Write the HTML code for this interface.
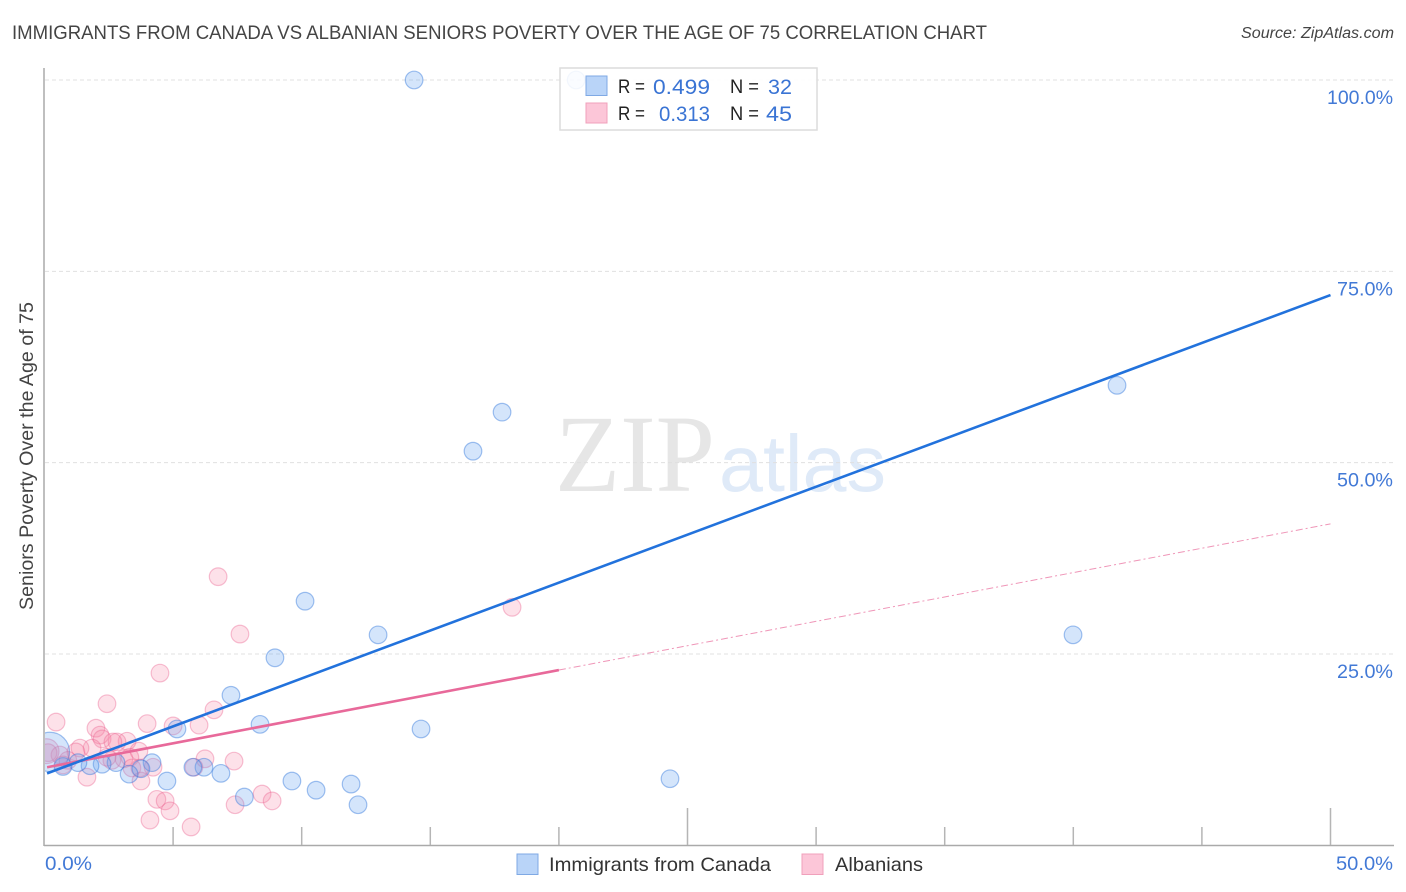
<!DOCTYPE html>
<html lang="en">
<head>
<meta charset="utf-8">
<title>Immigrants from Canada vs Albanian Seniors Poverty Correlation Chart</title>
<style>
  html, body { margin: 0; padding: 0; background: #fff; }
  svg { display: block; font-family: "Liberation Sans", sans-serif; filter: blur(0.3px); }
</style>
</head>
<body>
<svg id="chart" width="1406" height="892" viewBox="0 0 1406 892" xmlns="http://www.w3.org/2000/svg">
  <defs>
    <clipPath id="plot-clip"><rect x="45" y="60" width="1350" height="786"/></clipPath>
  </defs>
  <text x="12" y="39" font-size="19.5" fill="#444" textLength="975" lengthAdjust="spacingAndGlyphs">IMMIGRANTS FROM CANADA VS ALBANIAN SENIORS POVERTY OVER THE AGE OF 75 CORRELATION CHART</text>
  <text x="1241" y="38" font-size="15.5" font-style="italic" fill="#444" textLength="153" lengthAdjust="spacingAndGlyphs">Source: ZipAtlas.com</text>

  <g>
    <text x="555" y="491" font-family="'Liberation Serif', serif" font-size="110" fill="#e6e6e6" textLength="160" lengthAdjust="spacingAndGlyphs">ZIP</text>
    <text x="719" y="491" font-size="80" fill="#dfeaf8" textLength="167" lengthAdjust="spacingAndGlyphs">atlas</text>
  </g>

  <g id="grid"></g>
  <g id="axes"></g>
  <g clip-path="url(#plot-clip)">
    <g id="pink-points"></g>
    <g id="blue-points"></g>
  </g>
  <g id="trends"></g>

  <text transform="translate(33,456) rotate(-90)" text-anchor="middle" font-size="19" fill="#444" textLength="308" lengthAdjust="spacingAndGlyphs">Seniors Poverty Over the Age of 75</text>

  <g>
    <rect x="560" y="68" width="257" height="62" fill="#fff" fill-opacity="0.88" stroke="#dcdcdc" stroke-width="1.5"/>
    <rect x="586" y="76" width="21" height="19.5" fill="#b9d4f8" stroke="#7fa9e4" stroke-width="1"/>
    <rect x="586" y="103" width="21" height="20" fill="#fcc6d8" stroke="#f0a0bb" stroke-width="1"/>
    <text x="618" y="93" font-size="19" fill="#222" textLength="27" lengthAdjust="spacingAndGlyphs">R =</text>
    <text x="653" y="94" font-size="21" fill="#3a74d4" textLength="57" lengthAdjust="spacingAndGlyphs">0.499</text>
    <text x="730" y="93" font-size="19" fill="#222" textLength="29" lengthAdjust="spacingAndGlyphs">N =</text>
    <text x="768" y="94" font-size="21" fill="#3a74d4" textLength="24" lengthAdjust="spacingAndGlyphs">32</text>
    <text x="618" y="120" font-size="19" fill="#222" textLength="27" lengthAdjust="spacingAndGlyphs">R =</text>
    <text x="659" y="121" font-size="21" fill="#3a74d4" textLength="51" lengthAdjust="spacingAndGlyphs">0.313</text>
    <text x="730" y="120" font-size="19" fill="#222" textLength="29" lengthAdjust="spacingAndGlyphs">N =</text>
    <text x="766" y="121" font-size="21" fill="#3a74d4" textLength="26" lengthAdjust="spacingAndGlyphs">45</text>
  </g>

  <g>
    <rect x="517" y="854" width="21" height="20.5" fill="#b9d4f8" stroke="#7fa9e4" stroke-width="1"/>
    <text x="549" y="871" font-size="19.5" fill="#333" textLength="222" lengthAdjust="spacingAndGlyphs">Immigrants from Canada</text>
    <rect x="802" y="854" width="21" height="20.5" fill="#fcc6d8" stroke="#f0a0bb" stroke-width="1"/>
    <text x="835" y="871" font-size="19.5" fill="#333" textLength="88" lengthAdjust="spacingAndGlyphs">Albanians</text>
  </g>
</svg>
<script>
const blueX = [14.37,20.67,17.79,16.66,41.70,10.13,39.99,12.97,8.96,7.25,8.38,5.15,14.64,24.32,6.86,6.20,5.77,9.62,11.92,10.56,12.19,7.77,4.76,4.18,3.75,3.29,2.78,2.24,1.77,1.30,0.72,0.21];
const blueY = [100,100,56.6,51.5,60.1,31.9,27.5,27.5,24.5,19.6,15.8,15.2,15.2,8.7,9.4,10.2,10.2,8.4,8.0,7.2,5.3,6.3,8.4,10.8,10.0,9.3,10.8,10.6,10.4,10.8,10.3,12.2];
const blueWeight = [1,1,1,1,1,1,1,1,1,1,1,1,1,1,1,1,1,1,1,1,1,1,1,1,1,1,1,1,1,1,1,5];
const pinkX = [4.49,2.43,0.45,6.59,6.01,5.0,3.99,2.0,2.16,2.24,3.21,2.82,2.66,3.67,1.85,1.38,1.22,0.6,0.14,0.08,2.62,3.09,3.32,3.4,0.91,0.72,1.65,3.75,4.22,6.24,5.81,7.37,4.37,4.69,4.88,4.1,5.7,7.41,8.46,8.85,6.75,7.6,18.18,3.71,2.43];
const pinkY = [22.5,18.5,16.1,17.7,15.7,15.6,15.9,15.3,14.4,13.9,13.6,13.5,13.5,12.3,12.7,12.7,12.2,11.8,12.1,12.3,11.1,11.3,11.5,10.1,11.1,10.5,8.9,8.4,10.2,11.3,10.2,11.0,6.0,5.8,4.5,3.3,2.4,5.3,6.7,5.8,35.1,27.6,31.1,10.1,11.5];
const pinkWeight = [1,1,1,1,1,1,1,1,1,1,1,1,1,1,1,1,1,1,1,2,1,1,1,1,1,1,1,1,1,1,1,1,1,1,1,1,1,1,1,1,1,1,1,1,1];
const blueTrendX = [0.1,50];
const blueTrendY = [9.4,71.9];
const pinkSolidX = [0.1,20];
const pinkSolidY = [10.2,22.9];
const pinkDashX = [20,50];
const pinkDashY = [22.9,42.0];
const yTickValues = [25,50,75,100];
const yTickLabels = ["25.0%","50.0%","75.0%","100.0%"];
const xTickValues = [5,10,15,20,25,30,35,40,45,50];
const xTickMajor = [25,50];
const xLabelValues = [0,50];
const xLabelTexts = ["0.0%","50.0%"];

const SVGNS = "http://www.w3.org/2000/svg";
const xPos = v => 44.5 + v * 25.72;
const yPos = v => 845.3 - v * 7.653;
const labelWidth = s => (s.length === 4 ? 47 : s.length === 5 ? 56 : 66);
function make(tag, attrs, parent) {
  const el = document.createElementNS(SVGNS, tag);
  for (const k in attrs) el.setAttribute(k, attrs[k]);
  parent.appendChild(el);
  return el;
}
const grid = document.getElementById("grid");
const axes = document.getElementById("axes");
yTickValues.forEach(function (v, i) {
  const ln = make("line", {x1: 45, x2: 1394, y1: yPos(v), y2: yPos(v), stroke: "#e0e0e0", "stroke-width": 1, "stroke-dasharray": "4 3"}, grid);
  
  
  const w = labelWidth(yTickLabels[i]);
  const t = make("text", {x: 1393 - w, y: yPos(v) + 24, "font-size": 19.5, fill: "#4279d6", textLength: w, lengthAdjust: "spacingAndGlyphs"}, axes);
  
  
  t.textContent = yTickLabels[i];
});
const yLine = make("line", {x1: 44, x2: 44, y1: 68, y2: 846, stroke: "#aaa", "stroke-width": 1.5}, axes);


const xLine = make("line", {x1: 44, x2: 1394, y1: 845.5, y2: 845.5, stroke: "#aaa", "stroke-width": 1.5}, axes);


xTickValues.forEach(function (v) {
  const top = xTickMajor.includes(v) ? 808 : 827;
  const tk = make("line", {x1: xPos(v), x2: xPos(v), y1: top, y2: 845, stroke: "#b5b5b5", "stroke-width": 1.5}, axes);
  
  
});
xLabelValues.forEach(function (v, i) {
  const w = labelWidth(xLabelTexts[i]);
  const t = make("text", {x: v === 0 ? 45 : 1393 - w - 1, y: 870, "font-size": 19.5, fill: "#4279d6", textLength: v === 0 ? w : w + 1, lengthAdjust: "spacingAndGlyphs"}, axes);
  
  
  t.textContent = xLabelTexts[i];
});
const pinkGroup = document.getElementById("pink-points");
pinkX.forEach(function (v, i) {
  const c = make("circle", {cx: xPos(v), cy: yPos(pinkY[i]), r: 8.8 * Math.sqrt(pinkWeight[i]), fill: "rgba(248,130,165,0.24)", stroke: "rgba(236,100,145,0.4)", "stroke-width": 1.2}, pinkGroup);
  
  
});
const blueGroup = document.getElementById("blue-points");
blueX.forEach(function (v, i) {
  const c = make("circle", {cx: xPos(v), cy: yPos(blueY[i]), r: 8.8 * Math.sqrt(blueWeight[i]), fill: "rgba(100,160,240,0.28)", stroke: "rgba(50,120,220,0.45)", "stroke-width": 1.2}, blueGroup);
  
  
});
const trends = document.getElementById("trends");
const dashLine = make("line", {x1: xPos(pinkDashX[0]), y1: yPos(pinkDashY[0]), x2: xPos(pinkDashX[1]), y2: yPos(pinkDashY[1]), stroke: "#e8699a", "stroke-opacity": 0.7, "stroke-width": 1, "stroke-dasharray": "7 3 2 3"}, trends);


const pinkLine = make("line", {x1: xPos(pinkSolidX[0]), y1: yPos(pinkSolidY[0]), x2: xPos(pinkSolidX[1]), y2: yPos(pinkSolidY[1]), stroke: "#e8699a", "stroke-width": 2.6}, trends);


const blueLine = make("line", {x1: xPos(blueTrendX[0]), y1: yPos(blueTrendY[0]), x2: xPos(blueTrendX[1]), y2: yPos(blueTrendY[1]), stroke: "#2272dc", "stroke-width": 2.6}, trends);


</script>
</body>
</html>
